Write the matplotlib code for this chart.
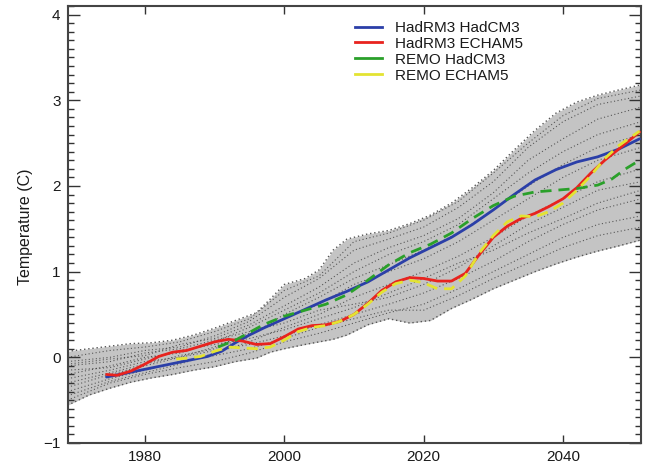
import numpy as np
import matplotlib
matplotlib.use('Agg')
import matplotlib.pyplot as plt
from matplotlib.lines import Line2D
from matplotlib.ticker import MultipleLocator

# model runs (year, temperature anomaly in C)
blue_years = [1974.5, 1977, 1980, 1983, 1986, 1989, 1991, 1993, 1995, 1997, 2000, 2003, 2006,
              2009, 2012, 2015, 2018, 2021, 2024, 2027, 2030, 2033, 2036, 2039, 2042, 2045, 2048, 2051]
blue = [-0.23, -0.19, -0.14, -0.09, -0.04, 0.01, 0.07, 0.17, 0.26, 0.34, 0.45, 0.56, 0.67,
        0.77, 0.88, 1.02, 1.16, 1.28, 1.40, 1.55, 1.72, 1.90, 2.07, 2.19, 2.28, 2.34, 2.43, 2.55]

red_years = [1974.5, 1976, 1978, 1980, 1982, 1984, 1986, 1988, 1990, 1992,
             1994, 1996, 1998, 2000, 2002, 2004, 2006, 2008, 2010, 2012, 2014, 2016, 2018, 2020,
             2022, 2024, 2026, 2028, 2030, 2032, 2034, 2036, 2038, 2040, 2042, 2044, 2046, 2048, 2051]
red = [-0.20, -0.21, -0.16, -0.08, 0.01, 0.06, 0.08, 0.13, 0.18, 0.21,
       0.19, 0.15, 0.16, 0.24, 0.33, 0.37, 0.38, 0.42, 0.50, 0.63, 0.78, 0.88, 0.93, 0.92,
       0.89, 0.89, 0.98, 1.20, 1.40, 1.53, 1.62, 1.68, 1.76, 1.85, 1.98, 2.15, 2.30, 2.43, 2.63]

grn_years = [1990.5, 1993, 1995, 1997, 2000, 2003, 2006, 2009, 2012, 2015, 2018, 2021,
             2024, 2027, 2030, 2033, 2036, 2039, 2042, 2045, 2047, 2049, 2051]
grn = [0.12, 0.20, 0.29, 0.38, 0.48, 0.55, 0.62, 0.73, 0.90, 1.08, 1.22, 1.32,
       1.45, 1.62, 1.77, 1.88, 1.93, 1.95, 1.97, 2.01, 2.08, 2.20, 2.30]

yel_years = [1984.5, 1986, 1988, 1990, 1992,
             1994, 1996, 1998, 2000, 2002, 2004, 2006, 2008, 2010, 2012, 2014, 2016, 2018, 2020,
             2022, 2024, 2026, 2028, 2030, 2032, 2034, 2036, 2038, 2040, 2042, 2044, 2046, 2048, 2051]
yel = [-0.02, -0.01, 0.01, 0.07, 0.12,
       0.11, 0.10, 0.12, 0.20, 0.30, 0.35, 0.37, 0.42, 0.50, 0.62, 0.76, 0.86, 0.90, 0.87,
       0.80, 0.80, 0.95, 1.22, 1.42, 1.58, 1.65, 1.64, 1.70, 1.80, 1.95, 2.12, 2.32, 2.47, 2.64]

labels = ['HadRM3 HadCM3', 'HadRM3 ECHAM5', 'REMO HadCM3', 'REMO ECHAM5']

# grey envelope of the GCM ensemble
band_years = [1968.9, 1972, 1975, 1978, 1981, 1984, 1987, 1990, 1993, 1996, 1998, 2000, 2003, 2005,
              2007, 2009, 2012, 2015, 2018, 2021, 2024, 2027, 2030, 2033, 2036, 2039, 2042, 2045,
              2048, 2051.2]
band_hi = [0.07, 0.10, 0.13, 0.16, 0.17, 0.20, 0.26, 0.34, 0.43, 0.52, 0.68, 0.85, 0.92, 1.02,
           1.25, 1.38, 1.44, 1.48, 1.56, 1.66, 1.80, 1.98, 2.18, 2.42, 2.65, 2.85, 2.98, 3.06,
           3.12, 3.18]
band_lo = [-0.56, -0.44, -0.36, -0.29, -0.24, -0.20, -0.15, -0.11, -0.05, -0.01, 0.06, 0.10, 0.15,
           0.18, 0.21, 0.26, 0.38, 0.45, 0.40, 0.43, 0.57, 0.68, 0.80, 0.90, 1.00, 1.09, 1.17,
           1.24, 1.30, 1.37]

# individual ensemble members (dotted lines inside the band)
mem_years = [1968.9, 1975, 1980, 1985, 1990, 1995, 2000, 2005, 2010, 2015, 2020, 2025, 2030,
             2035, 2040, 2045, 2051.2]
members = [
    [-0.05, 0.00, 0.08, 0.12, 0.25, 0.42, 0.70, 0.92, 1.25, 1.38, 1.52, 1.75, 2.05, 2.45, 2.75, 2.95, 3.05],
    [-0.20, -0.10, 0.00, 0.05, 0.18, 0.35, 0.55, 0.75, 1.00, 1.20, 1.35, 1.55, 1.85, 2.15, 2.40, 2.60, 2.75],
    [-0.35, -0.20, -0.10, 0.00, 0.12, 0.28, 0.45, 0.62, 0.85, 1.00, 1.15, 1.35, 1.60, 1.85, 2.10, 2.30, 2.45],
    [-0.45, -0.28, -0.18, -0.08, 0.05, 0.18, 0.35, 0.50, 0.70, 0.85, 1.00, 1.18, 1.40, 1.65, 1.85, 2.05, 2.20],
    [-0.10, -0.05, 0.05, 0.10, 0.20, 0.30, 0.40, 0.55, 0.62, 0.70, 0.85, 1.05, 1.30, 1.55, 1.75, 1.95, 2.05],
    [-0.25, -0.15, -0.05, 0.00, 0.08, 0.15, 0.25, 0.38, 0.50, 0.62, 0.75, 0.92, 1.12, 1.35, 1.55, 1.72, 1.85],
    [-0.50, -0.30, -0.20, -0.12, -0.05, 0.05, 0.18, 0.28, 0.40, 0.52, 0.62, 0.80, 1.00, 1.20, 1.40, 1.55, 1.65],
    [0.00, 0.08, 0.12, 0.18, 0.30, 0.45, 0.78, 0.95, 1.35, 1.45, 1.60, 1.82, 2.15, 2.50, 2.82, 3.02, 3.12],
    [-0.15, -0.12, -0.02, 0.08, 0.15, 0.22, 0.32, 0.45, 0.58, 0.75, 0.92, 1.10, 1.25, 1.45, 1.62, 1.80, 1.95],
    [-0.40, -0.25, -0.15, -0.05, 0.02, 0.10, 0.22, 0.35, 0.45, 0.55, 0.55, 0.72, 0.92, 1.10, 1.28, 1.42, 1.52],
    [-0.30, -0.18, -0.08, 0.02, 0.10, 0.25, 0.50, 0.70, 0.92, 1.08, 1.25, 1.45, 1.72, 2.00, 2.25, 2.45, 2.60],
    [-0.08, -0.02, 0.02, 0.15, 0.22, 0.38, 0.60, 0.82, 1.10, 1.28, 1.42, 1.62, 1.92, 2.30, 2.55, 2.78, 2.92],
]

colors = ['#2b3fa8', '#e8231e', '#2aa02a', '#e3e332']
txt = '#1a1a1a'

plt.rcParams['font.family'] = ['Liberation Sans', 'DejaVu Sans']

fig = plt.figure(figsize=(6.45, 4.70), dpi=100)
ax = fig.add_axes([67.5 / 645, 1 - 443 / 470, (641 - 67.5) / 645, (443 - 6) / 470])

ax.fill_between(band_years, band_lo, band_hi, color='#c4c4c4', lw=0, zorder=1)
ax.plot(band_years, band_hi, color='#555555', ls=(0, (1, 2)), lw=1.0, zorder=2)
ax.plot(band_years, band_lo, color='#555555', ls=(0, (1, 2)), lw=1.0, zorder=2)
for m in members:
    ax.plot(mem_years, m, color='#333333', ls=(0, (1, 2.2)), lw=0.8, alpha=0.75, zorder=2)

ax.plot(blue_years, blue, color=colors[0], lw=2.0, zorder=5, solid_capstyle='round')
ax.plot(red_years, red, color=colors[1], lw=2.0, zorder=6, solid_capstyle='round')
ax.plot(grn_years, grn, color=colors[2], lw=2.0, ls=(0, (4, 2.5)), zorder=7)
ax.plot(yel_years, yel, color=colors[3], lw=2.0, ls=(0, (4, 2.5)), zorder=8)

ax.set_xlim(1968.9, 2051.2)
ax.set_ylim(-1, 4.1)
ax.set_xticks([1980, 2000, 2020, 2040])
ax.set_yticks([-1, 0, 1, 2, 3, 4])
ax.set_yticklabels(['\u22121', '0', '1', '2', '3', '4'])
ax.yaxis.set_minor_locator(MultipleLocator(0.1))

ax.tick_params(axis='both', which='both', direction='in', colors='#333333',
               labelcolor=txt, labelsize=11, width=1.0)
ax.tick_params(axis='x', which='major', top=True, length=6, pad=5)
ax.tick_params(axis='x', which='minor', bottom=False, top=False)
ax.tick_params(axis='y', which='major', right=True, length=8.5, pad=5)
ax.tick_params(axis='y', which='minor', right=True, length=4.5)

for s in ax.spines.values():
    s.set_color('#444444')
    s.set_linewidth(1.5)

ax.set_ylabel('Temperature (C)', fontsize=11.5, color=txt)
ax.yaxis.set_label_coords(-0.06, 0.494)

handles = [Line2D([], [], color=c, lw=2.0) for c in colors]
fig.legend(handles, labels, loc='upper left', bbox_to_anchor=(355 / 645, 1 - 21 / 470),
           frameon=False, fontsize=11, handlelength=1.75, handletextpad=0.85,
           labelspacing=0.12, borderpad=0, borderaxespad=0, labelcolor=txt)

fig.savefig('out.png', dpi=100)
